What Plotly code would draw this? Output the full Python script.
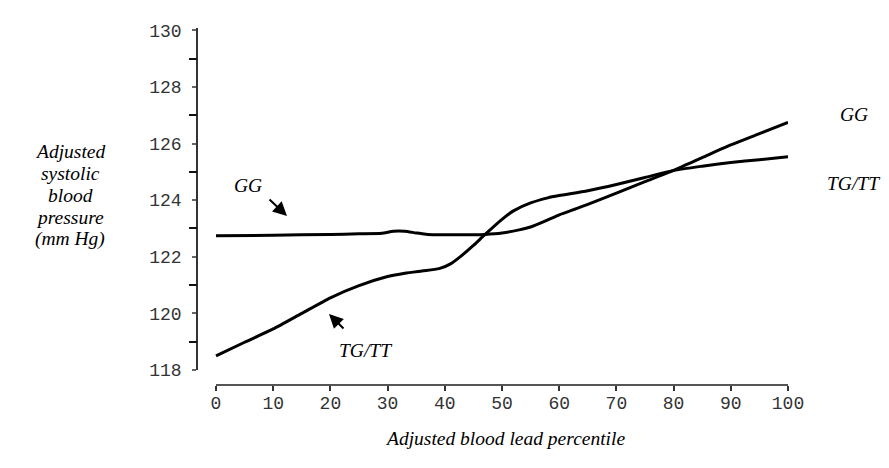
import plotly.graph_objects as go

# ---- data ----
gg_x = [0, 10, 20, 25, 29, 31, 33, 35, 37, 40, 45, 47, 50, 53, 55, 58, 60, 63, 65, 70, 75, 80, 85, 90, 95, 100]
gg_y = [122.74, 122.76, 122.79, 122.81, 122.83, 122.9, 122.9, 122.84, 122.79, 122.78, 122.78, 122.79,
        122.84, 122.95, 123.05, 123.3, 123.48, 123.7, 123.85, 124.25, 124.65, 125.05, 125.5, 125.95, 126.35, 126.75]

tg_x = [0, 5, 10, 15, 20, 25, 30, 33, 36, 39, 41, 43, 45, 47, 50, 52, 55, 58, 60, 65, 70, 75, 80, 85, 90, 95, 100]
tg_y = [118.5, 118.98, 119.45, 120.0, 120.55, 120.98, 121.3, 121.42, 121.5, 121.58, 121.75, 122.05,
        122.4, 122.78, 123.32, 123.62, 123.9, 124.08, 124.16, 124.33, 124.55, 124.8, 125.05, 125.2, 125.33, 125.43, 125.53]

x_ticks = [0, 10, 20, 30, 40, 50, 60, 70, 80, 90, 100]
x_tick_labels = ["0", "10", "20", "30", "40", "50", "60", "70", "80", "90", "100"]
y_ticks = [118, 120, 122, 124, 126, 128, 130]
y_tick_labels = ["118", "120", "122", "124", "126", "128", "130"]
y_minor_ticks = [119, 121, 123, 125, 127, 129]

y_title_lines = ["Adjusted", "systolic", "blood", "pressure", "(mm Hg)"]
x_title = "Adjusted blood lead percentile"

# ---- geometry (pixels) ----
W, H = 889, 468
L, R, T, B = 190, 109, 20, 91
PW, PH = W - L - R, H - T - B
X0_PX = 208          # pixel where x = 0 sits

def px(xp):
    return (xp - L) / PW

def py(yp):
    return (H - B - yp) / PH

X_MAX = 100
X_MIN = -X_MAX * (X0_PX - L) / (L + PW - X0_PX)

serif = "Liberation Serif"
mono = "Liberation Mono"
ital = dict(family=serif, size=19.5, color="black", style="italic")
Y_RANGE = [118, 130.08]
Y_DOMAIN = [py(362), 1.0]

fig = go.Figure()
# helper traces so that the helper axes get drawn
fig.add_trace(go.Scatter(x=[None], y=[None], xaxis="x2", yaxis="y", showlegend=False, hoverinfo="skip"))
fig.add_trace(go.Scatter(x=[None], y=[None], xaxis="x", yaxis="y2", showlegend=False, hoverinfo="skip"))
fig.add_trace(go.Scatter(x=gg_x, y=gg_y, mode="lines", name="GG",
                         line=dict(color="black", width=3, shape="spline", smoothing=0.6)))
fig.add_trace(go.Scatter(x=tg_x, y=tg_y, mode="lines", name="TG/TT",
                         line=dict(color="black", width=3, shape="spline", smoothing=0.6)))

fig.update_layout(
    width=W, height=H,
    margin=dict(l=L, r=R, t=T, b=B, pad=0),
    paper_bgcolor="white", plot_bgcolor="rgba(0,0,0,0)",
    showlegend=False,
    # data x axis: full width, hidden (its visible twin is xaxis2)
    xaxis=dict(
        domain=[0, 1], range=[X_MIN, X_MAX], anchor="y",
        showline=False, showticklabels=False, ticks="", showgrid=False, zeroline=False,
    ),
    # visible x axis, starting at x = 0
    xaxis2=dict(
        domain=[px(X0_PX), 1.0], range=[0, X_MAX], anchor="free", position=0,
        showline=True, linecolor="#555", linewidth=1.5,
        tickmode="array", tickvals=x_ticks, ticktext=x_tick_labels,
        ticks="outside", ticklen=5, tickcolor="#333", tickwidth=1.5,
        ticklabelstandoff=-3,
        tickfont=dict(family=mono, size=18, color="#333"),
        showgrid=False, zeroline=False,
    ),
    yaxis=dict(
        domain=Y_DOMAIN, range=Y_RANGE, anchor="x",
        showline=True, linecolor="#333", linewidth=1.5,
        tickmode="array", tickvals=y_ticks, ticktext=y_tick_labels,
        ticks="outside", ticklen=4, tickcolor="#666", tickwidth=1.5,
        ticklabelstandoff=7,
        tickfont=dict(family=mono, size=18, color="#333"),
        showgrid=False, zeroline=False,
    ),
    # overlay axis used only to draw the longer odd-value ticks
    yaxis2=dict(
        domain=Y_DOMAIN, range=Y_RANGE, anchor="x", overlaying="y",
        showline=False, tickmode="array", tickvals=y_minor_ticks,
        ticktext=[""] * len(y_minor_ticks),
        ticks="outside", ticklen=8, tickcolor="#111", tickwidth=2,
        showgrid=False, zeroline=False,
    ),
)

ann = []
# y-axis title lines
for i, line in enumerate(y_title_lines):
    ann.append(dict(text=line, xref="paper", yref="paper", x=px(62), y=py(143 + 22 * i),
                    xanchor="center", yanchor="middle", showarrow=False, font=ital))
# x-axis title
ann.append(dict(text=x_title, xref="paper", yref="paper", x=px(497), y=py(431),
                xanchor="center", yanchor="middle", showarrow=False, font=ital))
# right-end labels
ann.append(dict(text="GG", xref="paper", yref="paper", x=px(830), y=py(106),
                xanchor="left", yanchor="middle", showarrow=False, font=ital))
ann.append(dict(text="TG/TT", xref="paper", yref="paper", x=px(817), y=py(175),
                xanchor="left", yanchor="middle", showarrow=False, font=ital))
# arrow labels
ann.append(dict(text="GG", xref="paper", yref="paper", x=px(240), y=py(177),
                xanchor="center", yanchor="middle", showarrow=False, font=ital))
ann.append(dict(text="", xref="paper", yref="paper", x=px(279), y=py(208),
                ax=-19, ay=-18, showarrow=True, arrowhead=2, arrowsize=1.4,
                arrowwidth=2, arrowcolor="black"))
ann.append(dict(text="TG/TT", xref="paper", yref="paper", x=px(357), y=py(342),
                xanchor="center", yanchor="middle", showarrow=False, font=ital))
ann.append(dict(text="", xref="paper", yref="paper", x=px(321), y=py(306),
                ax=16, ay=16, showarrow=True, arrowhead=2, arrowsize=1.4,
                arrowwidth=2, arrowcolor="black"))
fig.update_layout(annotations=ann)

fig.write_html("out.html")
